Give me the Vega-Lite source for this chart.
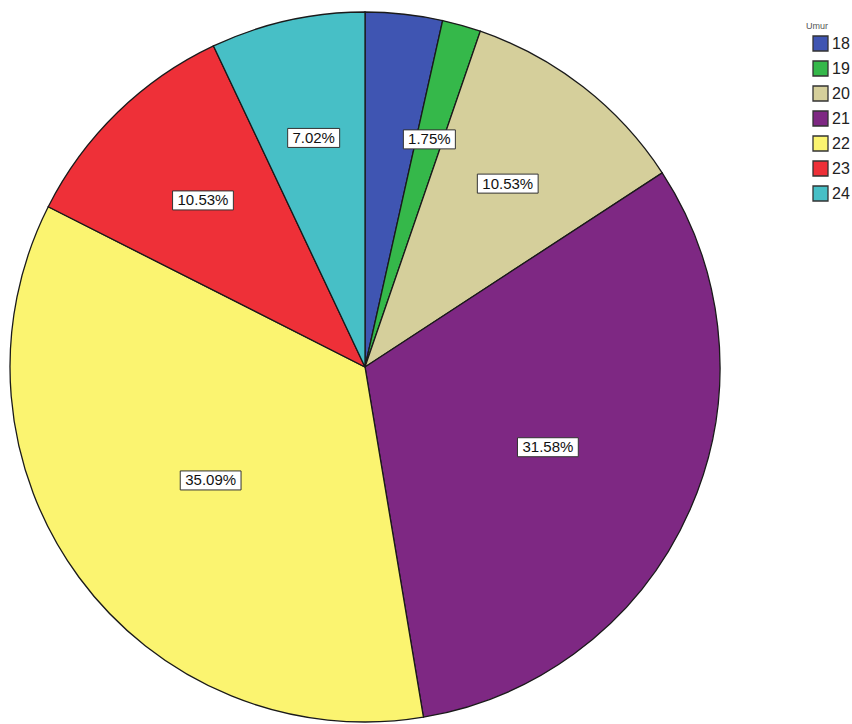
{
  "$schema": "https://vega.github.io/schema/vega-lite/v6.json",
  "width": 730,
  "height": 734,
  "autosize": "none",
  "padding": {"left": 0, "top": 0, "right": 122, "bottom": 0},
  "background": "white",
  "config": {"view": {"stroke": null}},
  "data": {"values": [
    {"Umur": "18", "n": 2},
    {"Umur": "19", "n": 1},
    {"Umur": "20", "n": 6},
    {"Umur": "21", "n": 18},
    {"Umur": "22", "n": 20},
    {"Umur": "23", "n": 6},
    {"Umur": "24", "n": 4}
  ]},
  "transform": [
    {"joinaggregate": [{"op": "sum", "field": "n", "as": "total"}]},
    {"window": [{"op": "sum", "field": "n", "as": "cum"}], "sort": [{"field": "Umur"}], "frame": [null, 0]},
    {"calculate": "format(datum.n / datum.total * 100, '.2f') + '%'", "as": "label"},
    {"calculate": "PI * datum.n / datum.total", "as": "half"},
    {"calculate": "2 * PI * (datum.cum - datum.n / 2) / datum.total", "as": "mid"},
    {"calculate": "2 * 355 * sin(datum.half) / (3 * datum.half)", "as": "rl"},
    {"calculate": "datum.rl * sin(datum.mid)", "as": "lx"},
    {"calculate": "datum.rl * cos(datum.mid)", "as": "ly"},
    {"calculate": "4.4 * length(datum.label) + 4", "as": "hw"},
    {"calculate": "datum.lx - datum.hw", "as": "bx1"},
    {"calculate": "datum.lx + datum.hw", "as": "bx2"},
    {"calculate": "datum.ly - 9.5", "as": "by1"},
    {"calculate": "datum.ly + 9.5", "as": "by2"}
  ],
  "layer": [
    {
      "mark": {"type": "arc", "outerRadius": 355, "stroke": "#1a1a1a", "strokeWidth": 1.3},
      "encoding": {
        "theta": {"field": "n", "type": "quantitative", "stack": true},
        "order": {"field": "Umur"},
        "color": {
          "field": "Umur",
          "type": "nominal",
          "scale": {
            "domain": ["18", "19", "20", "21", "22", "23", "24"],
            "range": ["#3f55b2", "#35b84a", "#d5cf9b", "#7e2883", "#fbf470", "#ee3038", "#47bfc6"]
          },
          "legend": {
            "title": "Umur",
            "orient": "none",
            "legendX": 806,
            "legendY": 22,
            "titleFontSize": 9,
            "titleFontWeight": "normal",
            "titleColor": "#555",
            "titleFont": "Liberation Sans",
            "titlePadding": 4,
            "labelFont": "Liberation Sans",
            "labelFontSize": 16,
            "labelColor": "#222",
            "labelOffset": 3,
            "symbolOffset": 6,
            "symbolType": "square",
            "symbolSize": 225,
            "symbolStrokeColor": "#333",
            "symbolStrokeWidth": 1.3,
            "symbolOpacity": 1,
            "rowPadding": 4
          }
        }
      }
    },
    {
      "transform": [{"filter": "datum.Umur != '18'"}],
      "mark": {"type": "rect", "fill": "white", "stroke": "#333", "strokeWidth": 1},
      "encoding": {
        "x": {"field": "bx1", "type": "quantitative", "scale": {"domain": [-365, 365], "nice": false, "zero": false}, "axis": null},
        "x2": {"field": "bx2"},
        "y": {"field": "by1", "type": "quantitative", "scale": {"domain": [-367, 367], "nice": false, "zero": false}, "axis": null},
        "y2": {"field": "by2"}
      }
    },
    {
      "transform": [{"filter": "datum.Umur != '18'"}],
      "mark": {"type": "text", "font": "Liberation Sans", "fontSize": 15, "color": "#111", "align": "center", "baseline": "middle"},
      "encoding": {
        "x": {"field": "lx", "type": "quantitative", "scale": {"domain": [-365, 365], "nice": false, "zero": false}, "axis": null},
        "y": {"field": "ly", "type": "quantitative", "scale": {"domain": [-367, 367], "nice": false, "zero": false}, "axis": null},
        "text": {"field": "label"}
      }
    }
  ],
  "resolve": {"scale": {"x": "shared", "y": "shared"}}
}
